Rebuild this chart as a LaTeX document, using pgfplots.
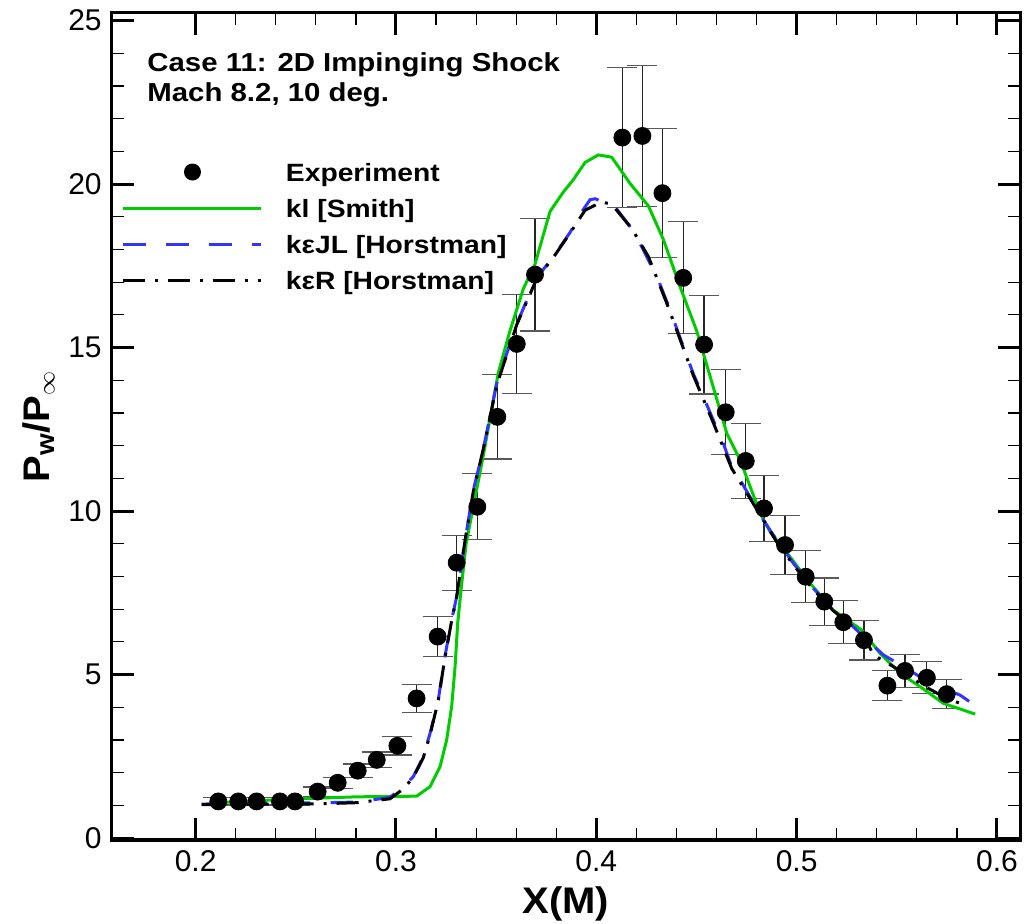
\documentclass[border=0pt]{standalone}
\usepackage{fontspec}
\setmainfont{Liberation Sans}
\newfontfamily\wbf{Liberation Sans}[FakeStretch=1.13]
\newfontfamily\wbfl{Liberation Sans}[FakeStretch=1.08]
\usepackage{pgfplots}
\pgfplotsset{compat=1.18}
\definecolor{lgreen}{RGB}{0,204,0}
\definecolor{lblue}{RGB}{51,51,255}
\pgfplotsset{
  lineleg/.style={legend image code/.code={\draw[##1] (0pt,0pt) -- (69pt,0pt);}},
  expleg/.style={legend image code/.code={\path[draw=none,fill=none] (0pt,-0.1pt) rectangle (69pt,0.1pt); \fill[black,draw=none] (34.5pt,0pt) circle (4.25pt);}}
}

\pgfplotstableread{
x y
0.2113 1.12
0.2213 1.12
0.2304 1.12
0.2421 1.12
0.2496 1.12
0.2609 1.42
0.2709 1.69
0.2809 2.06
0.2904 2.39
0.3007 2.82
0.3103 4.27
0.3208 6.16
0.3303 8.42
0.3406 10.13
0.3506 12.88
0.3603 15.11
0.3694 17.23
0.4130 21.42
0.4230 21.47
0.4330 19.72
0.4434 17.13
0.4538 15.09
0.4646 13.02
0.4746 11.53
0.4837 10.08
0.4942 8.96
0.5045 7.99
0.5138 7.23
0.5233 6.60
0.5336 6.05
0.5453 4.66
0.5541 5.11
0.5650 4.90
0.5749 4.40
}\exptab

\pgfplotstableread{
x y
0.2138 1.09
0.2471 1.19
0.2804 1.26
0.3103 1.28
0.3170 1.57
0.3220 2.18
0.3253 3.00
0.3278 4.02
0.3295 5.24
0.3308 6.57
0.3325 7.60
0.3350 9.00
0.3386 10.13
0.3436 11.70
0.3511 14.23
0.3569 15.51
0.3636 16.80
0.3694 17.55
0.3769 19.16
0.3835 19.75
0.3885 20.13
0.3944 20.66
0.4010 20.89
0.4077 20.82
0.4168 20.02
0.4260 19.33
0.4335 18.30
0.4418 16.86
0.4501 15.51
0.4568 14.12
0.4651 12.38
0.4718 11.56
0.4818 9.93
0.4867 9.37
0.4967 8.60
0.5067 7.79
0.5183 6.97
0.5325 6.36
0.5416 5.65
0.5516 5.04
0.5616 4.63
0.5732 4.12
0.5891 3.79
}\smithtab

\pgfplotstableread{
x y
0.2030 1.04
0.2300 1.05
0.2637 1.08
0.2800 1.10
0.2970 1.24
0.3036 1.57
0.3086 1.87
0.3136 2.49
0.3170 3.20
0.3211 4.22
0.3244 5.54
0.3278 6.67
0.3303 7.38
0.3345 9.11
0.3386 10.64
0.3436 11.90
0.3503 13.90
0.3603 15.73
0.3702 17.13
0.3785 17.77
0.3869 18.52
0.3935 19.22
0.3969 19.52
0.3994 19.55
0.4094 19.30
0.4169 18.69
0.4227 18.08
0.4310 17.06
0.4368 16.15
0.4418 15.30
0.4484 14.20
0.4534 13.50
0.4584 12.78
0.4634 12.07
0.4676 11.35
0.4718 10.95
0.4776 10.34
0.4834 9.72
0.4901 9.11
0.4984 8.40
0.5083 7.64
0.5183 6.97
0.5283 6.46
0.5350 6.06
0.5433 5.60
0.5533 5.24
0.5616 4.93
0.5732 4.58
0.5816 4.37
0.5932 3.88
}\jltab

\pgfplotstableread{
x y
0.2030 1.02
0.2637 1.05
0.2800 1.08
0.2970 1.20
0.3036 1.50
0.3086 1.85
0.3136 2.45
0.3170 3.15
0.3211 4.20
0.3244 5.50
0.3278 6.65
0.3303 7.38
0.3345 9.11
0.3386 10.60
0.3436 11.90
0.3503 13.85
0.3603 15.70
0.3702 17.10
0.3785 17.75
0.3869 18.50
0.3944 19.20
0.4027 19.45
0.4077 19.38
0.4177 18.64
0.4260 17.78
0.4352 16.35
0.4418 15.25
0.4484 14.15
0.4584 12.70
0.4676 11.30
0.4776 10.30
0.4901 9.05
0.4984 8.35
0.5083 7.60
0.5183 6.95
0.5283 6.45
0.5350 6.02
0.5383 5.60
0.5470 5.29
0.5533 5.05
0.5650 4.60
0.5750 4.27
0.5849 4.04
}\rtab

\begin{document}
\begin{tikzpicture}
\begin{axis}[
  name=ax,
  scale only axis,
  width=454.15pt, height=413.5pt,
  xmin=0.1581, xmax=0.6115, ymin=-0.06, ymax=25.23,
  axis line style={line width=1.5pt},
  xtick={0.2,0.3,0.4,0.5,0.6}, xticklabels={0.2,0.3,0.4,0.5,0.6},
  ytick={0,5,10,15,20,25}, yticklabels={0,5,10,15,20,25},
  minor x tick num=4, minor y tick num=4,
  tick align=inside,
  major tick length=11pt, minor tick length=6pt,
  major tick style={line width=1.5pt, black},
  minor tick style={line width=0.6pt, black},
  tick label style={font=\fontsize{15}{18}\selectfont},
  xticklabel style={yshift=-1.5pt},
  yticklabel style={xshift=-1.5pt},
  xlabel={X(M)},
  ylabel={P\textsubscript{w}/P\textsubscript{$\infty$}},
  label style={font=\wbfl\bfseries\fontsize{18.5}{22}\selectfont},
  xlabel style={yshift=-1pt},
  legend style={draw=none, fill=none, inner sep=0pt, outer sep=0pt,
    at={(0.0113,0.8222)}, anchor=north west, row sep=6pt, column sep=11.5pt,
    font=\wbf\bfseries\fontsize{12.5}{15}\selectfont,
    nodes={inner sep=0pt, text height=10.5pt, text depth=1.5pt}},
  legend cell align=left,
]
\addplot[only marks, mark=*, mark size=4.25pt, mark options={fill=black, draw=black}, expleg,
  error bars/.cd, y dir=both, y fixed relative=0.1,
  error bar style={line width=0.6pt, black!85},
  error mark options={rotate=90, line width=0.6pt, black!65, mark size=7.5pt}]
  table[x=x, y=y] {\exptab};
\addlegendentry{Experiment}
\addplot[lgreen, line width=1.5pt, lineleg]
  table[x=x, y=y] {\smithtab};
\addlegendentry{kl [Smith]}
\addplot[lblue, line width=1.5pt, dash pattern=on 11.3pt off 10.2pt, lineleg]
  table[x=x, y=y] {\jltab};
\addlegendentry{kεJL [Horstman]}
\addplot[black, line width=1.5pt, dash pattern=on 11pt off 5pt on 1.5pt off 5pt, lineleg]
  table[x=x, y=y] {\rtab};
\addlegendentry{kεR [Horstman]}
\node[anchor=north west, inner sep=0pt, align=left,
  font=\wbf\bfseries\fontsize{13}{15}\selectfont]
  at (rel axis cs:0.0389,0.9528) {Case 11: 2D Impinging Shock\\Mach 8.2, 10 deg.};
\end{axis}
\pgfresetboundingbox
\path ([shift={(-55.85pt,-41.5pt)}]ax.south west) rectangle ([shift={(2pt,6.5pt)}]ax.north east);
\end{tikzpicture}
\end{document}
